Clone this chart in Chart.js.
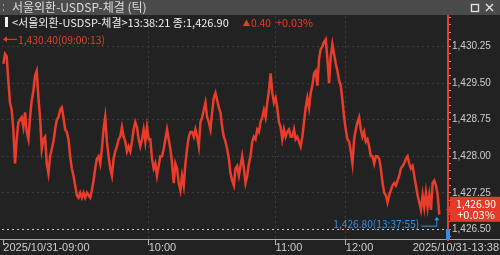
<!DOCTYPE html>
<html>
<head>
<meta charset="utf-8">
<script src="https://cdn.jsdelivr.net/npm/chart.js@4.4.0/dist/chart.umd.min.js"></script>
<style>
  html, body { margin: 0; padding: 0; background: #222; }
  canvas { display: block; background: #222; }
</style>
</head>
<body>
<canvas id="tick-chart" width="500" height="255"></canvas>
<script>
const red = "#ea3c2a";
const blue = "#3a8de0";
const gridGray = "#3c3c3c";
const labelGray = "#cdcdcd";

// tick prices, one block per hour
const ticks09 = [
  1429.90, 1430.10, 1430.05, 1429.55, 1429.10, 1428.95, 1428.55, 1427.85, 1428.35, 1428.70,
  1428.75, 1428.80, 1428.60, 1428.90, 1428.50, 1428.35, 1428.80, 1429.15, 1429.35, 1429.65,
  1429.75, 1429.20, 1428.80, 1428.15, 1428.35, 1428.40, 1427.85, 1427.65, 1428.00, 1428.15,
  1428.30, 1428.55, 1428.75, 1428.80, 1428.95, 1429.00, 1428.80, 1428.55, 1428.50, 1428.35,
  1428.00, 1427.75, 1427.60, 1427.40, 1427.20, 1427.15, 1427.25, 1427.15, 1427.25, 1427.15,
  1427.25, 1427.20, 1427.15, 1427.30, 1427.50, 1427.75, 1427.95, 1428.00, 1427.85, 1428.15,
  1428.55, 1428.80, 1428.30, 1428.00, 1427.75, 1427.60, 1427.95, 1428.10, 1428.20, 1428.35,
  1428.40, 1428.60, 1428.40, 1428.30, 1428.10, 1428.20, 1428.10, 1428.30, 1428.55, 1428.70,
  1428.60, 1428.35, 1428.20, 1428.35, 1428.55, 1428.30, 1428.60
];
const ticks10 = [
  1428.35,
  1428.35, 1427.95, 1427.75, 1427.85, 1427.60, 1427.80, 1428.00, 1428.00, 1428.15, 1428.35,
  1428.55, 1428.35, 1428.15, 1427.85, 1427.45, 1427.85, 1427.75, 1427.45, 1427.30, 1427.60,
  1427.40, 1427.85, 1428.15, 1428.40, 1428.50, 1428.50, 1428.40, 1428.55, 1428.40, 1428.20,
  1428.70, 1428.80, 1428.95, 1429.10, 1428.80, 1428.70, 1428.55, 1428.90, 1429.20, 1429.30,
  1429.15, 1429.00, 1428.90, 1428.60, 1428.40, 1428.30, 1428.15, 1427.95, 1427.65, 1427.50,
  1427.40, 1427.75, 1427.80, 1427.60, 1427.80, 1428.00, 1427.75, 1427.45, 1427.60, 1427.85,
  1428.00, 1428.30, 1428.40, 1428.35, 1428.55, 1428.50, 1428.70, 1428.80, 1428.95, 1428.80,
  1429.10, 1429.35, 1429.70, 1429.30, 1429.10
];
const ticks11 = [
  1429.20, 1429.00, 1428.70, 1428.60, 1428.35, 1428.55, 1428.40, 1428.50, 1428.55, 1428.40,
  1428.40, 1428.55, 1428.35, 1428.40, 1428.30, 1428.20, 1428.40, 1428.70, 1429.00, 1429.20,
  1429.00, 1429.30, 1429.45, 1429.70, 1429.75, 1429.45, 1430.00, 1430.20, 1430.25, 1430.35,
  1430.40, 1430.00, 1429.50, 1430.05, 1430.30, 1430.10, 1429.90, 1429.75, 1429.55, 1429.45,
  1429.15, 1428.80
];
// 12:00 up to 13:38
const ticks12 = [
  1428.55, 1428.35, 1428.30, 1428.10, 1427.85, 1428.35, 1428.55, 1428.70, 1428.80, 1428.55,
  1428.40, 1428.50, 1428.30, 1428.35, 1428.20, 1428.00, 1428.00, 1427.85, 1428.00, 1428.00,
  1427.95, 1427.75, 1427.45, 1427.25, 1427.20, 1427.05, 1427.20, 1427.30, 1427.40, 1427.45,
  1427.40, 1427.50, 1427.60, 1427.75, 1427.80, 1427.85, 1427.95, 1428.00, 1427.85, 1427.75,
  1427.80, 1427.60, 1427.40, 1427.20, 1427.05, 1426.90, 1427.20, 1426.95, 1427.25, 1426.95,
  1427.20, 1426.90, 1427.45, 1427.50, 1427.40, 1427.20, 1426.80
];

const hourLabels = ["2025/10/31-09:00", "10:00", "11:00", "12:00"];
const endLabel = "2025/10/31-13:38";
const priceTicks = [1426.50, 1427.25, 1428.00, 1428.75, 1429.50, 1430.25];

const title = "서울외환-USDSP-체결 (틱)";
const lastPrice = 1426.90;
const change = "0.40";
const changePct = "+0.03%";
const highPrice = 1430.40;
const highTime = "09:00:13";
const lastTickTime = "13:37:55";

const fmt = v => v.toLocaleString("en-US", { minimumFractionDigits: 2, maximumFractionDigits: 2 });

const hourBlocks = [ticks09, ticks10, ticks11, ticks12];
const prices = hourBlocks.flat();
const hourStart = [];
let count = 0;
hourBlocks.forEach(b => { hourStart.push(count); count += b.length; });
const points = prices.map((p, i) => ({ x: i, y: p }));

// small marks every 0.15 between the labelled prices
const minorTicks = [];
for (let v = 1426.35; v < 1430.88; v += 0.15) {
  const r = Math.round(v * 100) / 100;
  if (!priceTicks.includes(r)) minorTicks.push(r);
}

const overlay = {
  id: "overlay",
  afterDraw(chart) {
    const { ctx, chartArea, scales: { x, y } } = chart;
    const kr = "\"Noto Sans CJK KR\", sans-serif";
    ctx.save();
    ctx.textBaseline = "middle";

    // window title bar
    ctx.fillStyle = "#4b4b4b";
    ctx.fillRect(0, 0, 500, 15);
    ctx.fillStyle = "#9a9a9a";
    ctx.fillRect(3, 4, 1, 2);
    ctx.fillRect(3, 9, 1, 2);
    ctx.fillStyle = "#dcdcdc";
    ctx.font = "12px " + kr;
    ctx.fillText(title, 12, 7.5, 141);
    ctx.strokeStyle = "#e6e6e6";
    ctx.lineWidth = 1.3;
    ctx.strokeRect(471.5, 4.5, 7, 7);
    ctx.beginPath();
    ctx.moveTo(486, 4); ctx.lineTo(493, 11);
    ctx.moveTo(493, 4); ctx.lineTo(486, 11);
    ctx.stroke();

    // header line
    ctx.fillStyle = "#f0f0f0";
    ctx.fillRect(5, 17, 3, 10);
    ctx.font = "11px " + kr;
    ctx.fillText("<서울외환-USDSP-체결>13:38:21 종:" + fmt(lastPrice), 12, 22.5, 226);
    ctx.fillStyle = red;
    ctx.beginPath();
    ctx.moveTo(243, 26); ctx.lineTo(246.5, 19.5); ctx.lineTo(250, 26);
    ctx.fill();
    ctx.fillText(change, 251, 22.5, 20);
    ctx.fillText(changePct, 276, 22.5, 37);

    // day high marker
    const yh = y.getPixelForValue(highPrice);
    ctx.strokeStyle = "#d9432f";
    ctx.fillStyle = "#d9432f";
    ctx.lineWidth = 1;
    ctx.beginPath();
    ctx.moveTo(5, yh); ctx.lineTo(17, yh);
    ctx.stroke();
    ctx.beginPath();
    ctx.moveTo(3, yh); ctx.lineTo(7, yh - 3); ctx.lineTo(7, yh + 3);
    ctx.fill();
    ctx.fillText(fmt(highPrice) + "(" + highTime + ")", 18, yh, 87);

    // bottom axis line across the whole window
    ctx.fillStyle = "#a8a8a8";
    ctx.fillRect(0, 239, 500, 1);
    ctx.fillStyle = labelGray;
    ctx.font = "11px \"Liberation Sans\"";
    ctx.textAlign = "right";
    ctx.fillText(endLabel, 499, 248);

    // last tick annotation
    const li = prices.length - 1;
    const lx = x.getPixelForValue(li);
    const ly = y.getPixelForValue(prices[li]);
    ctx.fillStyle = blue;
    ctx.strokeStyle = blue;
    ctx.font = "11px " + kr;
    ctx.fillText(fmt(prices[li]) + "(" + lastTickTime + ")", lx - 20, ly + 9, 86);
    ctx.beginPath();
    ctx.moveTo(lx - 18, ly + 11.5); ctx.lineTo(lx - 2.5, ly + 11.5); ctx.lineTo(lx - 2.5, ly + 4);
    ctx.stroke();
    ctx.beginPath();
    ctx.moveTo(lx - 2.5, ly + 2); ctx.lineTo(lx - 5, ly + 5.5); ctx.lineTo(lx, ly + 5.5);
    ctx.fill();

    // current x marker at the foot of the red line
    ctx.fillRect(chartArea.right - 2, 229, 4, 11);

    // current price box
    const py = y.getPixelForValue(lastPrice);
    ctx.fillStyle = "#e33a29";
    ctx.fillRect(450, py - 13, 50, 25);
    ctx.beginPath();
    ctx.moveTo(446, py); ctx.lineTo(451, py - 5); ctx.lineTo(451, py + 5);
    ctx.fill();
    ctx.fillStyle = "#ffffff";
    ctx.textAlign = "center";
    ctx.font = "11px " + kr;
    ctx.fillText(fmt(lastPrice), 476, py - 6, 40);
    ctx.fillText(changePct, 476, py + 5, 38);
    ctx.restore();
  }
};

new Chart("tick-chart", {
  type: "line",
  data: {
    datasets: [
      {
        data: points,
        borderColor: red,
        borderWidth: 2.5,
        pointRadius: 0,
        tension: 0
      }
    ]
  },
  options: {
    responsive: false,
    animation: false,
    devicePixelRatio: 1,
    layout: { padding: { top: 16, left: 2, right: 0, bottom: 0 } },
    plugins: {
      legend: { display: false },
      tooltip: { enabled: false }
    },
    scales: {
      x: {
        type: "linear",
        min: -0.8,
        max: 266.2,
        afterBuildTicks: s => { s.ticks = hourStart.map(v => ({ value: v })); },
        afterFit: s => { s.height = 15; },
        grid: {
          color: c => (c.index === 0 ? "transparent" : gridGray),
          tickColor: "#b4b4b4",
          tickLength: 5
        },
        border: { display: false, dash: [2, 3] },
        ticks: {
          align: "start",
          padding: -4,
          autoSkip: false,
          maxRotation: 0,
          color: labelGray,
          font: { family: "Liberation Sans", size: 11 },
          callback: (v, i) => hourLabels[i]
        }
      },
      y: {
        position: "right",
        min: 1426.28,
        max: 1430.88,
        afterBuildTicks: s => {
          s.ticks = [...priceTicks, ...minorTicks].sort((a, b) => a - b).map(v => ({ value: v }));
        },
        afterFit: s => { s.width = 52; },
        grid: {
          color: c => {
            const v = c.tick ? c.tick.value : null;
            if (!priceTicks.includes(v)) return "transparent";
            return v === 1426.5 ? "#c8c8c8" : gridGray;
          },
          tickColor: "#9a9a9a",
          tickLength: 3
        },
        border: { color: red, width: 2, dash: [2, 3] },
        ticks: {
          padding: 1,
          autoSkip: false,
          color: labelGray,
          font: { family: "Liberation Sans", size: 10 },
          callback: v => (priceTicks.includes(v) ? fmt(v) : "")
        }
      }
    }
  },
  plugins: [overlay]
});
</script>
</body>
</html>
